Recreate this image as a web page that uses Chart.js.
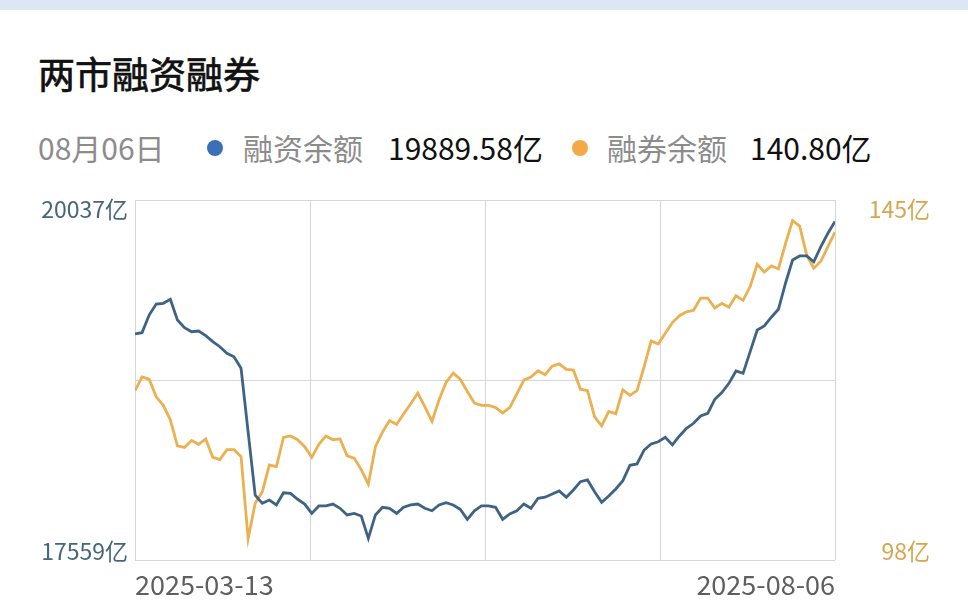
<!DOCTYPE html>
<html>
<head>
<meta charset="utf-8">
<script src="https://cdn.jsdelivr.net/npm/chart.js@4.4.1/dist/chart.umd.min.js"></script>
<style>
body{margin:0;width:968px;height:612px;background:#fff;position:relative;overflow:hidden;font-family:"Noto Sans CJK SC","Noto Sans",sans-serif}
#topbar{position:absolute;left:0;top:0;width:968px;height:10px;background:#dce6f5}
#title{position:absolute;left:38px;top:48px;font-size:37px;line-height:50px;color:#111;font-weight:normal;-webkit-text-stroke:0.7px #111}
.leg{position:absolute;top:127px;font-size:30px;line-height:40px;white-space:nowrap}
.gray{color:#8c8c8c}
.dark{color:#111}
.dot{position:absolute;top:140px;width:16px;height:16px;border-radius:50%}
#wrap{position:absolute;left:0;top:190px;width:968px;height:422px}
</style>
</head>
<body>
<div id="topbar"></div>
<div id="title">两市融资融券</div>
<span class="leg gray" style="left:38px">08月06日</span>
<span class="dot" style="left:207px;background:#3a70b5"></span>
<span class="leg gray" style="left:243px">融资余额</span>
<span class="leg dark" style="left:388px">19889.58亿</span>
<span class="dot" style="left:572px;background:#f2a948"></span>
<span class="leg gray" style="left:607px">融券余额</span>
<span class="leg dark" style="left:750px">140.80亿</span>
<div id="wrap"><canvas id="mychart"></canvas></div>
<script>
// trading days shown on the chart
var dates = [
  '2025-03-13','2025-03-14','2025-03-17','2025-03-18','2025-03-19','2025-03-20','2025-03-21','2025-03-24','2025-03-25','2025-03-26','2025-03-27','2025-03-28','2025-03-31',
  '2025-04-01','2025-04-02','2025-04-03','2025-04-07','2025-04-08','2025-04-09','2025-04-10','2025-04-11','2025-04-14','2025-04-15','2025-04-16','2025-04-17','2025-04-18','2025-04-21','2025-04-22','2025-04-23','2025-04-24','2025-04-25','2025-04-28','2025-04-29','2025-04-30',
  '2025-05-06','2025-05-07','2025-05-08','2025-05-09','2025-05-12','2025-05-13','2025-05-14','2025-05-15','2025-05-16','2025-05-19','2025-05-20','2025-05-21','2025-05-22','2025-05-23','2025-05-26','2025-05-27','2025-05-28','2025-05-29','2025-05-30',
  '2025-06-03','2025-06-04','2025-06-05','2025-06-06','2025-06-09','2025-06-10','2025-06-11','2025-06-12','2025-06-13','2025-06-16','2025-06-17','2025-06-18','2025-06-19','2025-06-20','2025-06-23','2025-06-24','2025-06-25','2025-06-26','2025-06-27','2025-06-30',
  '2025-07-01','2025-07-02','2025-07-03','2025-07-04','2025-07-07','2025-07-08','2025-07-09','2025-07-10','2025-07-11','2025-07-14','2025-07-15','2025-07-16','2025-07-17','2025-07-18','2025-07-21','2025-07-22','2025-07-23','2025-07-24','2025-07-25','2025-07-28','2025-07-29','2025-07-30','2025-07-31',
  '2025-08-01','2025-08-04','2025-08-05','2025-08-06'
]

// 融资余额 (亿)
var financing = [
  19115,19124,19245,19321,19326,19354,19211,19158,19130,19135,19103,19062,19027,18982,18958,18879,
  18440,18006,17949,17972,17938,18022,18018,17977,17944,17880,17931,17931,17944,17915,17869,17880,17862,17708,
  17869,17922,17915,17880,17922,17938,17944,17915,17898,17938,17953,17938,17908,17839,17898,17931,
  17931,17922,17839,17876,17898,17944,17915,17984,17991,18013,18034,17991,18041,18098,18110,18029,
  17956,18000,18048,18105,18211,18220,18316,18358,18373,18404,18351,18413,18466,18500,18550,18569,
  18665,18711,18775,18860,18844,18993,19142,19170,19230,19285,19464,19624,19652,19652,19612,19716,19808,19889.58
]

// 融券余额 (亿)
var lending = [
  120.1,121.9,121.6,119.3,118.2,116.3,112.9,112.7,113.6,113.1,113.8,111.4,111.1,112.4,112.4,111.5,
  100.8,105.4,106.9,110.4,110.2,114.0,114.2,113.7,112.8,111.4,113.1,114.2,113.7,113.8,111.6,111.3,109.8,107.9,
  112.8,114.7,116.2,115.7,117.1,118.4,119.8,118.0,116.1,118.9,121.2,122.4,121.6,120.0,118.5,118.2,
  118.2,117.9,117.2,117.9,119.7,121.5,121.9,122.7,122.2,123.3,123.6,122.9,122.8,120.3,120.1,116.7,
  115.5,117.4,117.1,120.2,119.5,120.1,123.2,126.6,126.2,127.6,129.0,129.9,130.4,130.6,132.2,132.2,
  130.9,131.5,131.0,132.5,131.9,133.7,136.6,135.6,136.4,136.0,139.3,142.3,141.6,137.8,136.1,137.0,138.9,140.80
]

var leftRange = [17559, 20037]
var rightRange = [98, 145]

var tickFont = {family:'"Noto Sans CJK SC", "Noto Sans", sans-serif', size:23, lineHeight:0.8}

function pts(arr){
  return arr.map(function(v,i){ return {x:i, y:v} })
}

// three y ticks (min, middle, max), labels only on the ends, pushed inside the plot
function yTicks(range){
  return function(scale){
    scale.ticks = [range[0], (range[0]+range[1])/2, range[1]].map(function(v){ return {value:v} })
  }
}
function yLabel(range){
  return function(value){
    if (value === range[0]) return [value + '亿', '']
    if (value === range[1]) return ['', value + '亿']
    return ''
  }
}
// fixed axis sizes so the plot box lands where it is in the picture
function fixY(w){
  return function(scale){
    scale.width = w
    scale.paddingTop = 0
    scale.paddingBottom = 0
  }
}

var last = dates.length - 1
var ctx = document.getElementById('mychart').getContext('2d')

var chart = new Chart(ctx, {
  type:'line',
  data:{
    datasets:[
      {
        label:'融资余额',
        data:pts(financing),
        borderColor:'#3e6384',
        borderWidth:2.8,
        pointRadius:0,
        tension:0,
        yAxisID:'y'
      },
      {
        label:'融券余额',
        data:pts(lending),
        borderColor:'#ebb04f',
        borderWidth:2.8,
        pointRadius:0,
        tension:0,
        yAxisID:'y1'
      }
    ]
  },
  options:{
    responsive:true,
    maintainAspectRatio:false,
    animation:false,
    layout:{padding:{top:10, right:38, left:0, bottom:0}},
    plugins:{legend:{display:false}, tooltip:{enabled:false}},
    scales:{
      x:{
        type:'linear',
        min:0,
        max:last,
        afterBuildTicks:function(scale){
          scale.ticks = [0, last/4, last/2, last*3/4, last].map(function(v){ return {value:v} })
        },
        afterFit:function(scale){
          scale.height = 52
          scale.paddingLeft = 0
          scale.paddingRight = 0
        },
        grid:{color:'#d6d6d6', lineWidth:1, drawTicks:false},
        border:{display:false},
        ticks:{
          autoSkip:false,
          maxRotation:0,
          align:'inner',
          padding:9,
          color:'#5f5f5f',
          font:{family:'"Noto Sans CJK SC", "Noto Sans", sans-serif', size:27},
          callback:function(v){
            if (v === 0) return dates[0]
            if (v === last) return dates[last]
            return ''
          }
        }
      },
      y:{
        position:'left',
        min:leftRange[0],
        max:leftRange[1],
        afterBuildTicks:yTicks(leftRange),
        afterFit:fixY(135),
        grid:{color:'#d6d6d6', lineWidth:1, drawTicks:false},
        border:{display:false},
        ticks:{padding:7, color:'#46667a', font:tickFont, callback:yLabel(leftRange)}
      },
      y1:{
        position:'right',
        min:rightRange[0],
        max:rightRange[1],
        afterBuildTicks:yTicks(rightRange),
        afterFit:fixY(95),
        grid:{drawOnChartArea:false, drawTicks:false},
        border:{display:false},
        ticks:{padding:7, crossAlign:'far', color:'#d6a64e', font:tickFont, callback:yLabel(rightRange)}
      }
    }
  }
})
</script>
</body>
</html>
